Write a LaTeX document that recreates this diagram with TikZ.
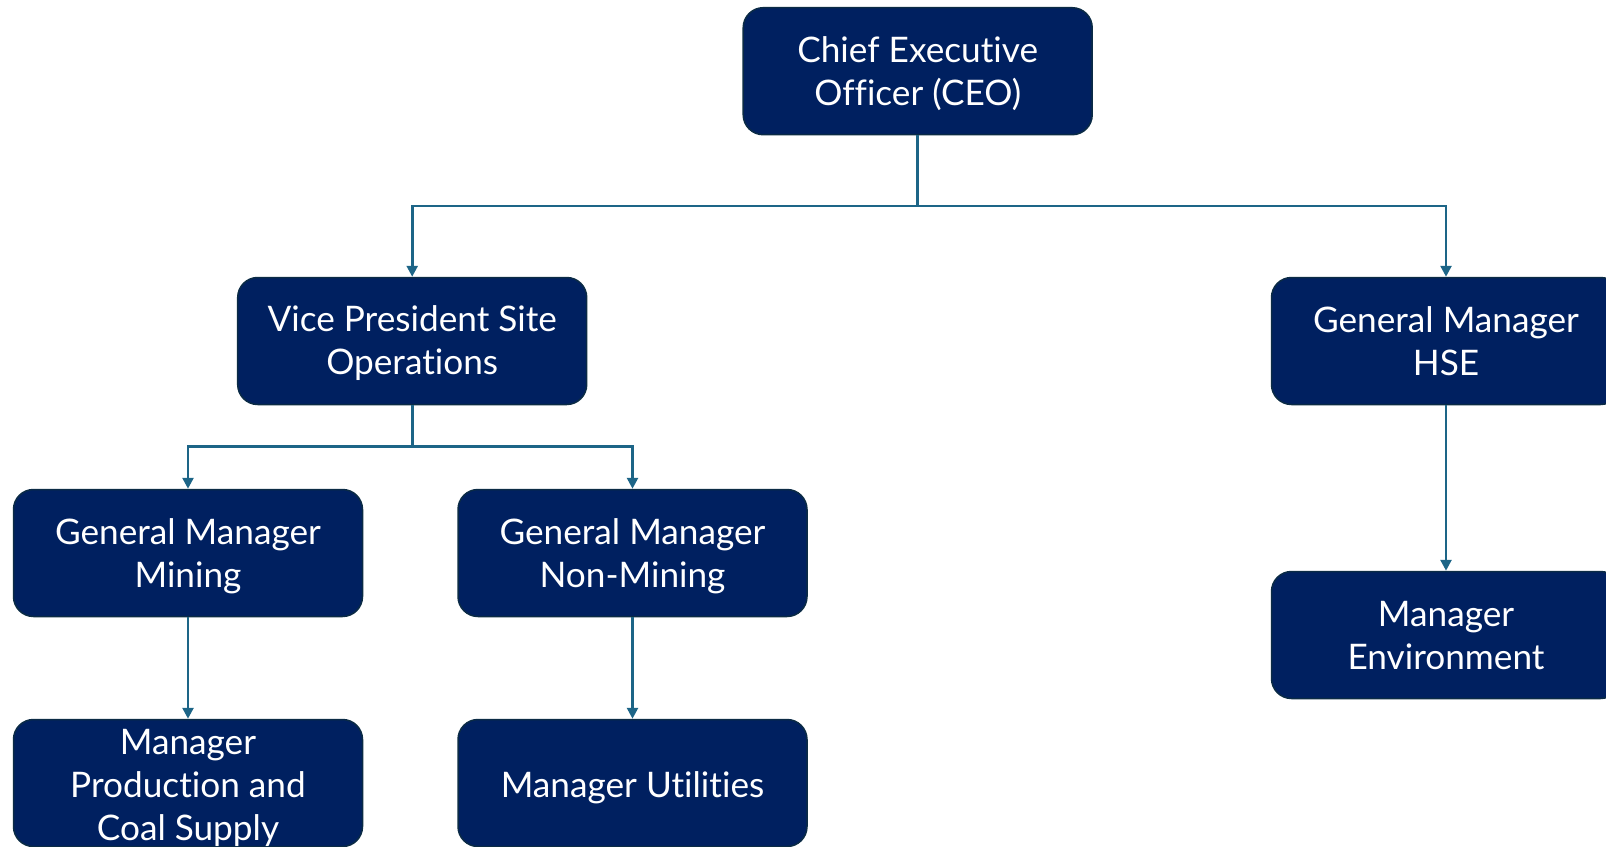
\documentclass[tikz,border=0pt]{standalone}
\usepackage{fontspec}
\setmainfont{Lato}[Ligatures=NoCommon]
\usetikzlibrary{arrows.meta}
\definecolor{boxfill}{HTML}{002060}
\definecolor{boxline}{HTML}{0B2B45}
\definecolor{conn}{HTML}{1D6587}
\tikzset{
  orgbox/.style={draw=boxline, line width=1.5pt, fill=boxfill, rounded corners=20pt,
    minimum width=349pt, minimum height=127pt, inner sep=0pt},
  orgtext/.style={text=white, align=center, inner sep=0pt,
    font=\fontsize{35.2}{43}\selectfont},
  link/.style={draw=conn, line width=2.6pt, -{Triangle[length=11pt,width=11pt]}},
}
\begin{document}
\begin{tikzpicture}[x=1pt,y=-1pt]
\useasboundingbox (0,0) rectangle (1606,846);
\node[orgbox] (ceo) at (917.7,71.2) {};
\node[orgbox] (vp) at (412.2,341) {};
\node[orgbox] (hse) at (1446,341) {};
\node[orgbox] (gmm) at (188,553) {};
\node[orgbox] (gmn) at (632.5,553) {};
\node[orgbox] (prod) at (188,783) {};
\node[orgbox] (util) at (632.5,783) {};
\node[orgbox] (env) at (1446,635) {};
\node[orgtext] (ceo-t) at ([yshift=-2.5pt]ceo.center) {Chief Executive\\Officer (CEO)};
\node[orgtext] (vp-t) at ([yshift=-2.5pt]vp.center) {Vice President Site\\Operations};
\node[orgtext] (hse-t) at ([yshift=0pt]hse.center) {General Manager\\HSE};
\node[orgtext] (gmm-t) at ([yshift=-3.5pt]gmm.center) {General Manager\\Mining};
\node[orgtext] (gmn-t) at ([yshift=-3.5pt]gmn.center) {General Manager\\Non-Mining};
\node[orgtext] (prod-t) at ([yshift=-5pt]prod.center) {Manager\\Production and\\Coal Supply};
\node[orgtext] (util-t) at ([yshift=-4.5pt]util.center) {Manager Utilities};
\node[orgtext] (env-t) at ([yshift=-0.5pt]env.center) {Manager\\Environment};
\coordinate (j1) at (917.7,206);
\coordinate (j2) at (412.2,446.5);
\draw[link] (ceo.south) -- (j1) -| (vp.north);
\draw[link] (j1) -| (hse.north);
\draw[link] (vp.south) -- (j2) -| (gmm.north);
\draw[link] (j2) -| (gmn.north);
\draw[link] (gmm.south) -- (prod.north);
\draw[link] (gmn.south) -- (util.north);
\draw[link] (hse.south) -- (env.north);
\end{tikzpicture}
\end{document}
